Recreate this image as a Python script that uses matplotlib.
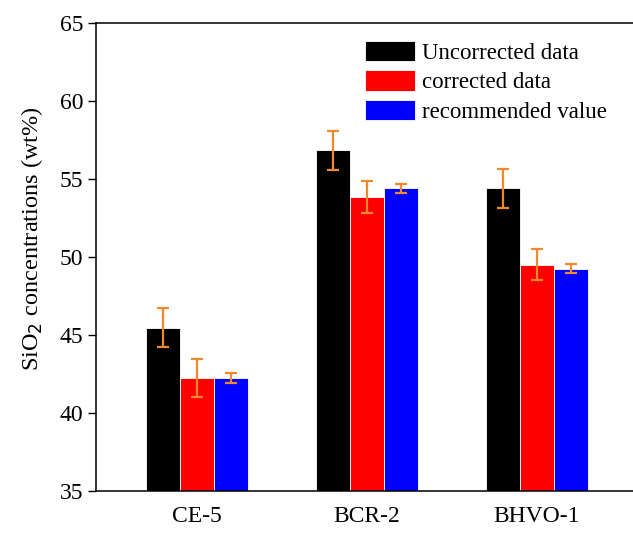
import numpy as np
import matplotlib
matplotlib.use("Agg")
import matplotlib.pyplot as plt

plt.rcParams["font.family"] = ["Liberation Serif", "DejaVu Serif"]

# Data
samples = ["CE-5", "BCR-2", "BHVO-1"]
uncorrected = [45.45, 56.85, 54.4]
uncorrected_err = [1.25, 1.25, 1.25]
corrected = [42.25, 53.85, 49.5]
corrected_err = [1.2, 1.0, 1.0]
recommended = [42.25, 54.4, 49.25]
recommended_err = [0.3, 0.3, 0.3]

series = [
    ("Uncorrected data", uncorrected, uncorrected_err, "black"),
    ("corrected data", corrected, corrected_err, "#ff0000"),
    ("recommended value", recommended, recommended_err, "#0000ff"),
]

fig = plt.figure(figsize=(6.33, 5.34), dpi=100)
ax = fig.add_axes([96 / 633, 43 / 534, 542 / 633, 468 / 534])

x = np.arange(len(samples))
width = 0.2
for i, (label, vals, errs, color) in enumerate(series):
    ax.bar(x + (i - 1) * width, vals, width, color=color, edgecolor="white",
           linewidth=0.6, label=label, zorder=2)
    ax.errorbar(x + (i - 1) * width, vals, yerr=errs, fmt="none",
                ecolor="#f0892a", elinewidth=1.6, capsize=4.5, capthick=1.6,
                zorder=3)

ax.set_xlim(-0.594, 2.594)
ax.set_ylim(35, 65)
ax.set_yticks([35, 40, 45, 50, 55, 60, 65])
ax.set_xticks(x)
ax.set_xticklabels(samples, fontsize=17)
ax.tick_params(axis="x", length=0, pad=11)
ax.tick_params(axis="y", direction="out", length=6, width=1, labelsize=17, pad=3)
ax.spines["right"].set_visible(False)
for s in ["left", "bottom", "top"]:
    ax.spines[s].set_linewidth(1.1)

ax.set_ylabel("SiO$_2$ concentrations (wt%)", fontsize=17.5)
ax.yaxis.set_label_coords(-0.094, 0.54)

ax.legend(loc="upper left", bbox_to_anchor=(0.458, 1.006), frameon=False,
          fontsize=16.5, handlelength=2.2, handleheight=1.0, handletextpad=0.3,
          labelspacing=0.28)

fig.savefig("out.png", dpi=100)
